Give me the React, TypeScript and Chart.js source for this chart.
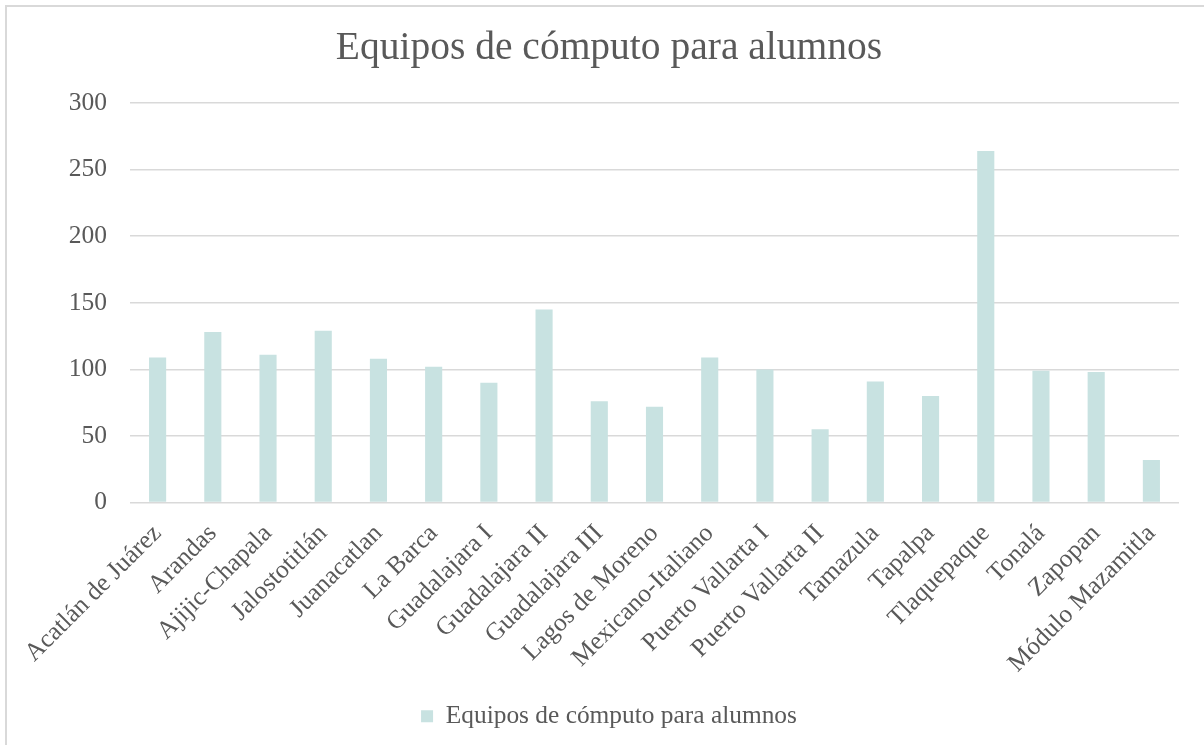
import React, { useEffect, useRef } from "react";
import { Chart, registerables } from "chart.js";

Chart.register(...registerables);

const chartTitle = "Equipos de cómputo para alumnos";
const seriesName = "Equipos de cómputo para alumnos";
const categories = [
  "Acatlán de Juárez",
  "Arandas",
  "Ajijic-Chapala",
  "Jalostotitlán",
  "Juanacatlan",
  "La Barca",
  "Guadalajara I",
  "Guadalajara II",
  "Guadalajara III",
  "Lagos de Moreno",
  "Mexicano-Italiano",
  "Puerto Vallarta I",
  "Puerto Vallarta II",
  "Tamazula",
  "Tapalpa",
  "Tlaquepaque",
  "Tonalá",
  "Zapopan",
  "Módulo Mazamitla",
];
const values = [109, 128, 111, 129, 108, 102, 90, 145, 76, 72, 109, 100, 55, 91, 80, 264, 99, 98, 32];
const yTicks = [0, 50, 100, 150, 200, 250, 300];

const FONT = "'Liberation Serif', 'DejaVu Serif', serif";
const TEXT = "#595959";
const GRID = "#d9d9d9";
const BAR = "#c8e2e1";

export default function App() {
  const ref = useRef<HTMLCanvasElement | null>(null);

  useEffect(() => {
    if (!ref.current) return;
    const chart = new Chart(ref.current, {
      type: "bar",
      data: {
        labels: categories,
        datasets: [
          {
            label: seriesName,
            data: values,
            backgroundColor: BAR,
            borderWidth: 0,
            barPercentage: 0.31,
            categoryPercentage: 1,
            yAxisID: "y",
          },
        ],
      },
      options: {
        responsive: false,
        animation: false,
        layout: { padding: { left: 14, right: 0, top: 0, bottom: 6 } },
        plugins: {
          tooltip: { enabled: false },
          title: {
            display: true,
            text: chartTitle,
            color: TEXT,
            font: { family: FONT, size: 39.5, weight: "normal", lineHeight: 1.2 },
            padding: { top: 25, bottom: 30.6 },
          },
          legend: {
            position: "bottom",
            labels: {
              color: TEXT,
              font: { family: FONT, size: 25.4 },
              boxWidth: 12,
              boxHeight: 12,
              padding: 10,
            },
          },
        },
        scales: {
          x: {
            grid: { display: false, drawTicks: false },
            border: { display: false },
            ticks: {
              color: TEXT,
              font: { family: FONT, size: 25.5 },
              maxRotation: 45,
              minRotation: 45,
              autoSkip: false,
              padding: 16,
            },
            afterFit: (s: any) => {
              s.height = 191;
            },
          },
          y: {
            min: 0,
            max: 300,
            afterBuildTicks: (s: any) => {
              s.ticks = yTicks.map((v) => ({ value: v }));
            },
            grid: { color: GRID, lineWidth: 1.5, drawTicks: false },
            border: { display: false },
            ticks: {
              color: TEXT,
              font: { family: FONT, size: 25.5 },
              padding: 23,
            },
            afterFit: (s: any) => {
              s.width = 116;
            },
          },
          yRight: {
            type: "linear",
            position: "right",
            display: true,
            grid: { display: false, drawTicks: false },
            border: { display: false },
            ticks: { display: false },
            afterFit: (s: any) => {
              s.width = 25;
            },
          },
        },
      },
    });
    return () => chart.destroy();
  }, []);

  return (
    <div style={{ position: "fixed", left: 0, top: 0, width: 1204, height: 745, background: "#fff", overflow: "hidden" }}>
      <div
        style={{
          position: "absolute",
          left: 5,
          top: 5,
          width: 1300,
          height: 900,
          border: "2px solid #d9d9d9",
          boxSizing: "border-box",
        }}
      />
      <canvas ref={ref} width={1204} height={745} style={{ position: "absolute", left: 0, top: 0 }} />
    </div>
  );
}
